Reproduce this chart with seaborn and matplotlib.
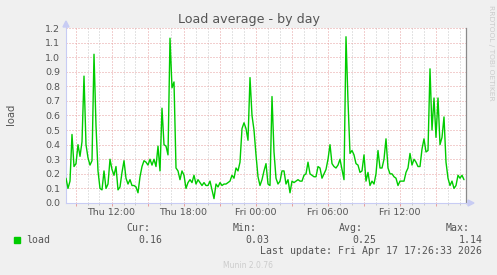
import matplotlib
matplotlib.use("Agg")
import matplotlib.pyplot as plt
import matplotlib.dates as mdates
from matplotlib.ticker import MultipleLocator, FuncFormatter
from matplotlib.patches import Rectangle, Polygon
from matplotlib.lines import Line2D
import seaborn as sns
import pandas as pd

# ---------------- data ----------------
START = "2026-04-16 08:12:30"      # first sample (10-minute spacing)
load = [
    0.17, 0.10, 0.15, 0.47, 0.25, 0.27, 0.40, 0.32, 0.42, 0.87,
    0.40, 0.31, 0.26, 0.29, 1.02, 0.53, 0.22, 0.10, 0.09, 0.22,
    0.10, 0.13, 0.30, 0.23, 0.19, 0.25, 0.09, 0.11, 0.21, 0.29,
    0.17, 0.13, 0.16, 0.12, 0.12, 0.11, 0.07, 0.18, 0.25, 0.29,
    0.28, 0.26,
    0.30, 0.26, 0.30, 0.25, 0.39, 0.22, 0.65, 0.40, 0.39, 0.33,
    1.13, 0.79, 0.83, 0.24, 0.22, 0.16, 0.22, 0.19, 0.10, 0.14,
    0.16, 0.14, 0.19, 0.13, 0.16, 0.14, 0.12, 0.14, 0.12, 0.12,
    0.15, 0.09, 0.03, 0.13, 0.11, 0.14, 0.12, 0.13, 0.13, 0.14,
    0.15,
    0.19, 0.17, 0.24, 0.22, 0.28, 0.51, 0.55, 0.51, 0.43, 0.86,
    0.60, 0.50, 0.33, 0.18, 0.12, 0.16, 0.22, 0.27, 0.13, 0.12,
    0.73, 0.35, 0.17, 0.13, 0.15, 0.22, 0.22, 0.13, 0.16, 0.07,
    0.15, 0.14, 0.15, 0.16, 0.15, 0.15, 0.19, 0.20, 0.28, 0.20,
    0.19, 0.18,
    0.18, 0.25, 0.24, 0.17, 0.20, 0.23, 0.30, 0.40, 0.27, 0.25,
    0.24, 0.26, 0.30, 0.23, 0.16, 1.14, 0.70, 0.34, 0.36, 0.33,
    0.27, 0.26, 0.21, 0.22, 0.33, 0.15, 0.21, 0.12, 0.15, 0.13,
    0.20, 0.36, 0.24, 0.24, 0.30, 0.44, 0.24, 0.20, 0.20, 0.18,
    0.17,
    0.12, 0.15, 0.15, 0.15, 0.21, 0.24, 0.34, 0.26, 0.30, 0.28,
    0.25, 0.25, 0.37, 0.44, 0.35, 0.36, 0.92, 0.50, 0.72, 0.45,
    0.72, 0.40, 0.45, 0.59, 0.28, 0.17, 0.12, 0.15, 0.10, 0.12,
    0.19, 0.17, 0.19, 0.16,
]
TITLE = "Load average - by day"
YLABEL = "load"
SERIES = "load"
stat_labels = ["Cur:", "Min:", "Avg:", "Max:"]
stat_values = ["0.16", "0.03", "0.25", "1.14"]
LAST_UPDATE = "Last update: Fri Apr 17 17:26:33 2026"

# ---------------- style ----------------
sns.set_style("white")
plt.rcParams["font.family"] = ["DejaVu Sans"]

W, H = 497, 275
BG = "#F0F0F0"
TXT = "#555555"
MGRID = "#E6A0A0"
GRID = "#C8C8C8"
AXIS = "#C8CCF4"
GREEN = "#00CC00"

def fx(px):
    return px / W

def fy(py):
    return 1 - py / H

fig = plt.figure(figsize=(W / 100, H / 100), dpi=100, facecolor=BG)
ax = fig.add_axes([fx(66), fy(203), 400 / W, 175 / H])
ax.set_facecolor("white")

times = pd.date_range(START, periods=len(load), freq="10min")
df = pd.DataFrame({"time": times, "load": load})
sns.lineplot(data=df, x="time", y="load", ax=ax, color=GREEN, linewidth=1.0,
             zorder=3)

t0 = pd.Timestamp(START)
ax.set_xlim(t0, t0 + pd.Timedelta(minutes=2000))
ax.set_ylim(0, 1.2)

ax.xaxis.set_major_locator(mdates.HourLocator(byhour=range(0, 24, 3)))
ax.xaxis.set_minor_locator(mdates.HourLocator())

def xfmt(v, pos):
    d = mdates.num2date(v)
    return d.strftime("%a %H:%M") if d.hour % 6 == 0 else ""

ax.xaxis.set_major_formatter(FuncFormatter(xfmt))
ax.yaxis.set_major_locator(MultipleLocator(0.1))
ax.yaxis.set_major_formatter(FuncFormatter(lambda v, p: f"{v:.1f}"))

dot = (0, (1, 2))
ax.set_axisbelow(True)
ax.grid(True, which="minor", axis="x", color=GRID, linestyle=dot, linewidth=0.72)
ax.grid(True, which="major", axis="both", color=MGRID, linestyle=dot, linewidth=0.72)

ax.set_xlabel("")
ax.set_ylabel("")
ax.tick_params(axis="x", which="major", length=2.2, width=0.72, color=MGRID,
               labelsize=6.8, labelcolor=TXT, pad=1.5, bottom=True)
ax.tick_params(axis="x", which="minor", length=1.5, width=0.72, color=GRID,
               bottom=True)
ax.tick_params(axis="y", which="major", length=0, labelsize=6.8,
               labelcolor=TXT, pad=4.3, left=True)

for s in ["top"]:
    ax.spines[s].set_visible(False)
ax.spines["right"].set_color("#8A8A8A")
ax.spines["right"].set_linewidth(0.9)
ax.spines["left"].set_color(AXIS)
ax.spines["bottom"].set_color(AXIS)
ax.spines["left"].set_linewidth(0.8)
ax.spines["bottom"].set_linewidth(0.8)

# axis arrows
fig.add_artist(Line2D([fx(66), fx(66)], [fy(28), fy(24)], color=AXIS, lw=0.8))
fig.add_artist(Polygon([[fx(66), fy(21)], [fx(63), fy(27)], [fx(69), fy(27)]],
                       closed=True, color=AXIS, transform=fig.transFigure))
fig.add_artist(Line2D([fx(466), fx(470)], [fy(203), fy(203)], color=AXIS, lw=0.8))
fig.add_artist(Polygon([[fx(474), fy(203)], [fx(468), fy(200)], [fx(468), fy(206)]],
                       closed=True, color=AXIS, transform=fig.transFigure))

# texts
fig.text(0.5, fy(23.5), TITLE, ha="center", va="baseline", fontsize=9.1, color=TXT)
fig.text(fx(11), fy(114), YLABEL, rotation=90, ha="center", va="center",
         fontsize=7.2, color=TXT)
fig.text(fx(491), fy(53), "RRDTOOL / TOBI OETIKER", rotation=270, ha="center",
         va="center", fontsize=5.4, color="#CCCCCC")
fig.text(fx(248), fy(265), "Munin 2.0.76", ha="center", va="center",
         fontsize=5.5, color="#CCCCCC")

mono = dict(family="DejaVu Sans Mono", fontsize=7.15, color=TXT)
fig.add_artist(Rectangle((fx(14), fy(243)), 6 / W, 6 / H, color=GREEN,
                         transform=fig.transFigure))
fig.text(fx(26.5), fy(242.7), SERIES, ha="left", va="baseline", **mono)
lab_x = [150, 257, 363.3, 470]
val_x = [162.3, 269.3, 376, 482.3]
for lx, vx, lab, val in zip(lab_x, val_x, stat_labels, stat_values):
    fig.text(fx(lx), fy(231), lab, ha="right", va="baseline", **mono)
    fig.text(fx(vx), fy(242.7), val, ha="right", va="baseline", **mono)
fig.text(fx(482.3), fy(254.2), LAST_UPDATE, ha="right", va="baseline", **mono)

fig.savefig("out.png", dpi=100, facecolor=BG)
